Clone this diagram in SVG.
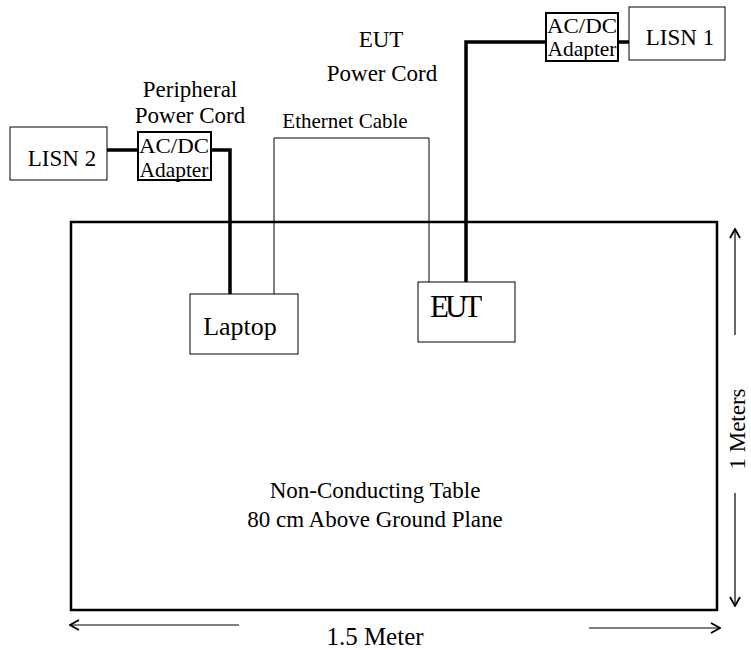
<svg xmlns="http://www.w3.org/2000/svg" width="751" height="650" viewBox="0 0 751 650">
<defs>
<marker id="chev" viewBox="0 0 12 12" refX="11" refY="6" markerWidth="12" markerHeight="12" markerUnits="userSpaceOnUse" orient="auto">
<path d="M2,1 L11,6 L2,11" fill="none" stroke="#000" stroke-width="1.8"/>
</marker>
</defs>
<style>
text{font-family:"Liberation Serif","Times New Roman",serif;fill:#000}
.box{fill:#fff;stroke:#000;stroke-width:1}
.adp{fill:#fff;stroke:#000;stroke-width:2}
.cord{fill:none;stroke:#000;stroke-width:3.5}
.eth{fill:none;stroke:#000;stroke-width:1}
.dim{fill:none;stroke:#000;stroke-width:1.2;marker-end:url(#chev)}
.l{font-size:23px}
.s{font-size:21px}
</style>
<rect width="751" height="650" fill="#fff"/>
<g id="table">
<rect x="71" y="222" width="646" height="388" fill="none" stroke="#000" stroke-width="2.5"/>
<text class="l" x="375" y="498" text-anchor="middle">Non-Conducting Table</text>
<text class="l" x="375" y="527" text-anchor="middle">80 cm Above Ground Plane</text>
</g>
<g id="connectors">
<polyline class="cord" points="466,282 466,42 546,42"/>
<line class="cord" x1="618" y1="42" x2="629" y2="42"/>
<polyline class="cord" points="211,150 230,150 230,294"/>
<line class="cord" x1="107" y1="150" x2="138" y2="150"/>
<polyline class="eth" points="274,294 274,138 429,138 429,287"/>
</g>
<g id="labels">
<text class="l" x="381" y="47" text-anchor="middle">EUT</text>
<text class="l" x="382" y="81" text-anchor="middle">Power Cord</text>
<text class="l" x="190" y="97" text-anchor="middle">Peripheral</text>
<text class="l" x="190" y="123" text-anchor="middle">Power Cord</text>
<text class="s" x="345" y="128" text-anchor="middle">Ethernet Cable</text>
</g>
<g id="lisn1">
<rect class="box" x="629" y="7" width="96" height="53"/>
<text class="l" x="680" y="45" text-anchor="middle">LISN 1</text>
</g>
<g id="adapter1">
<rect class="adp" x="546" y="13" width="72" height="48"/>
<text class="s" x="582" y="33" text-anchor="middle" textLength="70" lengthAdjust="spacingAndGlyphs">AC/DC</text>
<text class="s" x="582" y="56" text-anchor="middle" textLength="69" lengthAdjust="spacingAndGlyphs">Adapter</text>
</g>
<g id="lisn2">
<rect class="box" x="10" y="127" width="97" height="53"/>
<text class="l" x="62" y="166" text-anchor="middle">LISN 2</text>
</g>
<g id="adapter2">
<rect class="adp" x="138" y="132" width="73" height="48"/>
<text class="s" x="174" y="153" text-anchor="middle" textLength="70" lengthAdjust="spacingAndGlyphs">AC/DC</text>
<text class="s" x="174" y="177" text-anchor="middle" textLength="69" lengthAdjust="spacingAndGlyphs">Adapter</text>
</g>
<g id="laptop">
<rect class="box" x="190" y="294" width="108" height="60"/>
<text x="240" y="335" text-anchor="middle" style="font-size:26px">Laptop</text>
</g>
<g id="eut">
<rect class="box" x="418" y="282" width="97" height="60"/>
<text x="430" y="317" style="font-size:31px;letter-spacing:-4px">EUT</text>
</g>
<g id="dimensions">
<line class="dim" x1="735" y1="335" x2="735" y2="229"/>
<line class="dim" x1="735" y1="493" x2="735" y2="606"/>
<text class="l" transform="translate(745,429) rotate(-90)" text-anchor="middle">1 Meters</text>
<line class="dim" x1="239" y1="625" x2="70" y2="625"/>
<line class="dim" x1="589" y1="628" x2="720" y2="628"/>
<text x="375" y="645" text-anchor="middle" style="font-size:25px">1.5 Meter</text>
</g>
</svg>
